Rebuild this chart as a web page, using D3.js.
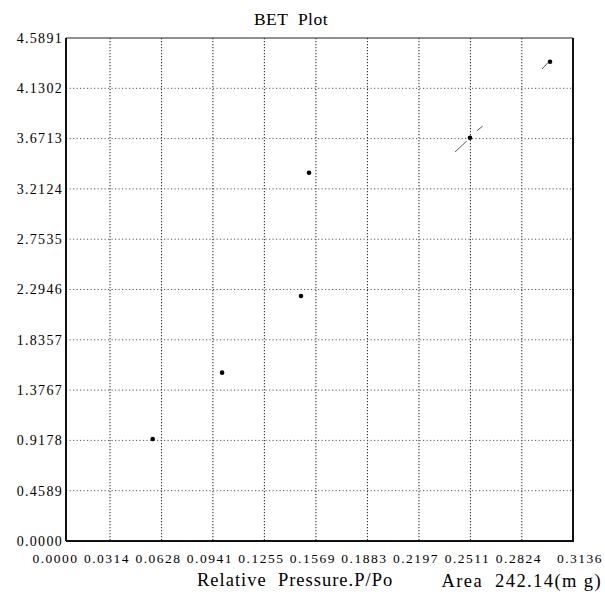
<!DOCTYPE html>
<html>
<head>
<meta charset="utf-8">
<script src="https://cdn.jsdelivr.net/npm/d3@7"></script>
<style>
  body { margin: 0; background: #fff; }
  text { font-family: "Liberation Serif", "DejaVu Serif", serif; fill: #000; }
</style>
</head>
<body>
<svg class="chart" width="605" height="598"></svg>
<script>
// tick values
var xTicks = [0.0000, 0.0314, 0.0628, 0.0941, 0.1255, 0.1569, 0.1883, 0.2197, 0.2511, 0.2824, 0.3136];
var yTicks = [0.0000, 0.4589, 0.9178, 1.3767, 1.8357, 2.2946, 2.7535, 3.2124, 3.6713, 4.1302, 4.5891];

// measured points (relative pressure, BET y)
var pressure = [0.0574, 0.0997, 0.1478, 0.1527, 0.2508, 0.2996];
var betY     = [0.931, 1.536, 2.235, 3.360, 3.679, 4.373];

// the fit line only survives as a few short pieces in the scan
var fitX1 = [0.2417, 0.2551, 0.2947];
var fitY1 = [3.549, 3.743, 4.306];
var fitX2 = [0.2488, 0.2586, 0.2983];
var fitY2 = [3.649, 3.786, 4.364];

var areaText = "Area  242.14(m g)";

var chart = d3.select(".chart");

var frameLeft = 66, frameRight = 573, frameTop = 38, frameBottom = 541;

var x = d3.scaleLinear().domain([0, 0.3136]).range([58.5, frameRight]);
var y = d3.scaleLinear().domain([0, 4.5891]).range([frameBottom, frameTop]);

// grid
chart.append("g").selectAll("line")
  .data(xTicks.slice(1, xTicks.length - 1))
  .enter().append("line")
    .attr("x1", function(d){ return x(d); })
    .attr("x2", function(d){ return x(d); })
    .attr("y1", frameTop)
    .attr("y2", frameBottom)
    .attr("stroke", "#333")
    .attr("stroke-width", 1.1)
    .attr("stroke-dasharray", "1.2,1.8");

chart.append("g").selectAll("line")
  .data(yTicks.slice(1, yTicks.length - 1))
  .enter().append("line")
    .attr("x1", frameLeft)
    .attr("x2", frameRight)
    .attr("y1", function(d){ return y(d); })
    .attr("y2", function(d){ return y(d); })
    .attr("stroke", "#555")
    .attr("stroke-width", 1)
    .attr("stroke-dasharray", "1.2,2.3");

// frame
chart.append("line").attr("x1", frameLeft).attr("x2", frameRight)
  .attr("y1", frameTop).attr("y2", frameTop)
  .attr("stroke", "#222").attr("stroke-width", 1.2);
chart.append("line").attr("x1", frameLeft).attr("x2", frameRight + 1)
  .attr("y1", frameBottom).attr("y2", frameBottom)
  .attr("stroke", "#111").attr("stroke-width", 2);
chart.append("line").attr("x1", frameLeft).attr("x2", frameLeft)
  .attr("y1", frameTop).attr("y2", frameBottom)
  .attr("stroke", "#111").attr("stroke-width", 2);
chart.append("line").attr("x1", frameRight).attr("x2", frameRight)
  .attr("y1", frameTop).attr("y2", frameBottom)
  .attr("stroke", "#111").attr("stroke-width", 2);

// fit line pieces
chart.append("g").selectAll("line")
  .data(fitX1)
  .enter().append("line")
    .attr("x1", function(d){ return x(d); })
    .attr("y1", function(d, i){ return y(fitY1[i]); })
    .attr("x2", function(d, i){ return x(fitX2[i]); })
    .attr("y2", function(d, i){ return y(fitY2[i]); })
    .attr("stroke", "#555")
    .attr("stroke-width", 1);

// points
chart.append("g").selectAll("circle")
  .data(pressure)
  .enter().append("circle")
    .attr("cx", function(d){ return x(d); })
    .attr("cy", function(d, i){ return y(betY[i]); })
    .attr("r", 2.3)
    .attr("fill", "#000");

// tick labels
chart.append("g").selectAll("text")
  .data(yTicks)
  .enter().append("text")
    .attr("x", 63)
    .attr("y", function(d){ return y(d); })
    .attr("dy", "0.35em")
    .style("text-anchor", "end")
    .style("font-size", "14px")
    .style("letter-spacing", "1.3px")
    .text(function(d){ return d3.format(".4f")(d); });

chart.append("g").selectAll("text")
  .data(xTicks)
  .enter().append("text")
    .attr("x", function(d, i){
      if ( i === xTicks.length - 1 ) { return 603; }
      return x(d) - 3;
    })
    .attr("y", 563)
    .style("text-anchor", function(d, i){
      return i === xTicks.length - 1 ? "end" : "middle";
    })
    .style("font-size", "13.5px")
    .style("letter-spacing", "1.5px")
    .text(function(d){ return d3.format(".4f")(d); });

// titles
chart.append("text")
  .attr("x", 291)
  .attr("y", 25)
  .style("text-anchor", "middle")
  .style("font-size", "17.5px")
  .style("letter-spacing", "0.5px")
  .style("white-space", "pre")
  .text("BET  Plot");

chart.append("text")
  .attr("x", 197)
  .attr("y", 586)
  .style("font-size", "18.5px")
  .style("letter-spacing", "1px")
  .style("white-space", "pre")
  .text("Relative  Pressure.P/Po");

chart.append("text")
  .attr("x", 602)
  .attr("y", 587)
  .style("text-anchor", "end")
  .style("font-size", "18.5px")
  .style("letter-spacing", "1.4px")
  .style("white-space", "pre")
  .text(areaText);
</script>
</body>
</html>
